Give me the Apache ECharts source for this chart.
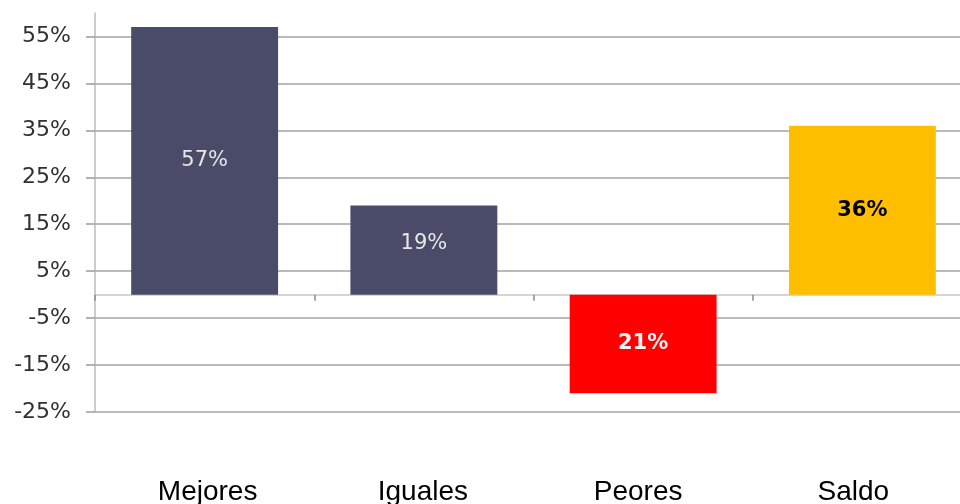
<!DOCTYPE html>
<html>
<head>
<meta charset="utf-8">
<style>html,body{margin:0;padding:0;background:#fff;}#c{width:960px;height:504px;}</style>
<script src="https://cdn.jsdelivr.net/npm/echarts@6/dist/echarts.min.js"></script>
</head>
<body>
<div id="c"></div>
<script>
var categories = ['Mejores', 'Iguales', 'Peores', 'Saldo'];
var values = [57, 19, -21, 36];
var barColors = ['#494B69', '#494B69', '#FF0000', '#FFBF00'];
var yTicks = [-25, -15, -5, 5, 15, 25, 35, 45, 55];

var labelStyles = [
  {color: '#e6e6e6', fontWeight: 'normal', offset: [0, 0]},
  {color: '#e6e6e6', fontWeight: 'normal', offset: [0, -7]},
  {color: '#f4f4f4', fontWeight: 'bold', offset: [0, 0]},
  {color: '#000000', fontWeight: 'bold', offset: [0, 0]}
];

var chart = echarts.init(document.getElementById('c'));
var gridTop = 13, gridBottom = 92;

chart.setOption({
  animation: false,
  backgroundColor: '#ffffff',
  grid: [
    {left: 95, width: 877, top: gridTop, bottom: gridBottom, outerBoundsMode: 'none', containLabel: false},
    {left: 100, width: 861, top: gridTop, bottom: gridBottom, outerBoundsMode: 'none', containLabel: false}
  ],
  xAxis: [
    {
      type: 'category', gridIndex: 0, data: categories,
      axisLine: {onZero: true, lineStyle: {color: '#c8c8c8', width: 1.5}},
      axisTick: {show: true, length: 6, lineStyle: {color: '#8c8c8c', width: 1.5}},
      axisLabel: {show: false},
      splitLine: {show: false}
    },
    {
      type: 'category', gridIndex: 1, data: categories,
      axisLine: {show: false, onZero: false}, axisTick: {show: false},
      position: 'bottom',
      axisLabel: {
        show: true, margin: 66, color: '#000',
        fontFamily: 'Liberation Sans', fontSize: 28
      }
    }
  ],
  yAxis: [
    {
      type: 'value', gridIndex: 0, min: -25, max: 60, interval: 5,
      axisLine: {show: true, lineStyle: {color: '#bdbdbd', width: 1.5}},
      axisTick: {show: true, length: 9, customValues: yTicks, lineStyle: {color: '#9a9a9a', width: 1.5}},
      axisLabel: {
        customValues: yTicks, margin: 24, color: '#303030',
        fontFamily: 'DejaVu Sans', fontSize: 22,
        formatter: function (v) { return v + '%'; }
      },
      splitLine: {show: true, lineStyle: {color: '#a3a3a3', width: 1.5}}
    },
    {
      type: 'value', gridIndex: 1, min: -25, max: 60, show: false
    }
  ],
  series: [{
    type: 'bar', xAxisIndex: 0, yAxisIndex: 0,
    barWidth: '67%',
    data: values.map(function (v, i) {
      return {
        value: v,
        itemStyle: {color: barColors[i]},
        label: labelStyles[i]
      };
    }),
    label: {
      show: true, position: 'inside',
      fontFamily: 'DejaVu Sans', fontSize: 21,
      formatter: function (p) { return Math.abs(p.value) + '%'; }
    }
  }]
});
</script>
</body>
</html>
